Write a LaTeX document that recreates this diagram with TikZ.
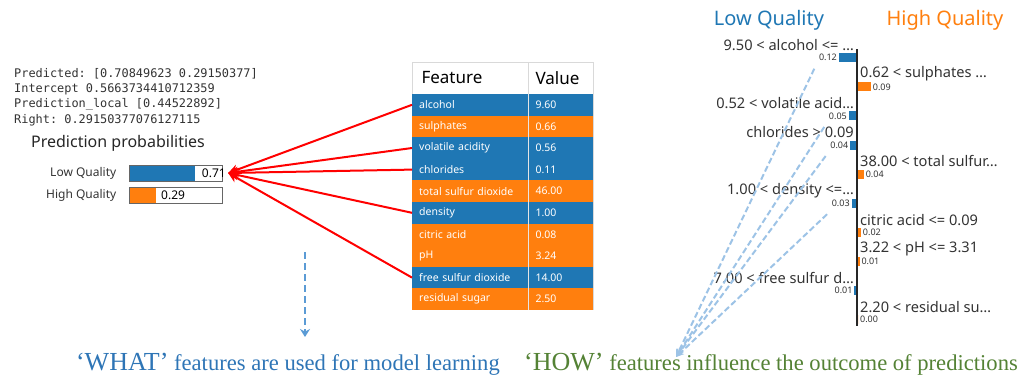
\documentclass[tikz,border=0pt]{standalone}
\usepackage{fontspec}
\setmainfont{Liberation Serif}
\setsansfont{Noto Sans}
\setmonofont{DejaVu Sans Mono}
\usetikzlibrary{arrows.meta}

\definecolor{lowq}{HTML}{1F77B4}
\definecolor{highq}{HTML}{FF7F0E}
\definecolor{whatblue}{HTML}{2E75B6}
\definecolor{howgreen}{HTML}{548235}
\definecolor{howdash}{HTML}{9DC3E6}
\definecolor{whatdash}{HTML}{5B9BD5}
\definecolor{txtgray}{HTML}{333333}

\newcommand{\sfpx}[1]{\sffamily\fontsize{#1}{#1}\selectfont}

\tikzset{
  featcell/.style={anchor=west, inner xsep=7pt, inner ysep=0pt, minimum height=21.6pt,
    text width=102pt, align=left, text=white, font=\sfpx{10.5}},
  valcell/.style={featcell, text width=50pt},
  probbox/.style={draw=gray!80!black, minimum width=93pt, minimum height=16pt, inner sep=0pt},
  problabel/.style={anchor=east, font=\sfpx{12}, text=txtgray},
  rule/.style={font=\sfpx{14.6}, text=txtgray, inner sep=1pt},
  weight/.style={font=\sfpx{9}, text=txtgray, inner sep=1.5pt},
  bar/.style={inner sep=0pt, minimum height=9pt},
  featarrow/.style={red, line width=2pt, -{Stealth[length=10pt,width=10pt]}},
  howline/.style={howdash, line width=2pt, dash pattern=on 6pt off 3pt, -{Stealth[length=8pt,width=7pt]}},
  whatline/.style={whatdash, line width=2.2pt, dash pattern=on 7pt off 4pt, -{Stealth[length=8pt,width=10pt]}},
}

\begin{document}
\begin{tikzpicture}[x=1pt,y=-1pt]
    \useasboundingbox (0,0) rectangle (1027,378);

    % explainer output and class probabilities
    \node[anchor=north west, align=left, inner sep=0pt, text=txtgray,
      font=\ttfamily\fontsize{11.9}{15.3}\selectfont] (predtext) at (14,68)
      {Predicted: [0.70849623 0.29150377]\\
       Intercept 0.5663734410712359\\
       Prediction\_local [0.44522892]\\
       Right: 0.29150377076127115};
    \node[font=\sfpx{16}, text=black!85] (probtitle) at (118,143) {Prediction probabilities};
    \fill[lowq] (129,165) rectangle (195,181);
    \fill[highq] (129,187) rectangle (156,203);
    \node[probbox] (lowbox) at (175.5,173) {};
    \node[probbox] (highbox) at (175.5,195) {};
    \node[problabel] (lowlab) at ([xshift=-9pt]lowbox.west) {Low Quality};
    \node[problabel] (highlab) at ([xshift=-9pt]highbox.west) {High Quality};
    \node[anchor=east, inner sep=0pt, font=\sfpx{12}] (lowval) at (226,173) {0.71};
    \node[anchor=west, inner sep=0pt, font=\sfpx{12}] (highval) at (161,195) {0.29};

    % feature table
    \draw[gray!30] (412,62) rectangle (528,94) (528,62) rectangle (593,94);
    \node[anchor=west, font=\sfpx{17}] (feathead) at (418,78) {Feature};
    \node[anchor=west, font=\sfpx{17}] (valhead) at (532,78) {Value};
    \foreach \feat/\val/\col [count=\i from 0] in {alcohol/9.60/lowq, sulphates/0.66/highq,
      volatile acidity/0.56/lowq, chlorides/0.11/lowq, total sulfur dioxide/46.00/highq,
      density/1.00/lowq, citric acid/0.08/highq, pH/3.24/highq,
      free sulfur dioxide/14.00/lowq, residual sugar/2.50/highq}{
        \node[featcell, fill=\col] (row-\i) at (412,{104.8+21.6*\i}) {\feat};
        \node[valcell, fill=\col] (cell-\i) at (row-\i.east) {\val};
    }
    \draw[white!80!gray] (528,94) -- (528,310);
    \draw[gray!30] (593,62) -- (593,310);

    \foreach \i in {0,2,3,5,8}
        \draw[featarrow] (row-\i.west) -- ([xshift=6pt]lowbox.east);

    % contributions per rule
    \node[font=\sfpx{20}, text=lowq] (lowtitle) at (769,20) {Low Quality};
    \node[font=\sfpx{20}, text=highq] (hightitle) at (945,20) {High Quality};
    \foreach \i/\rl/\w in {0/9.50 < alcohol <= \ldots/0.12, 2/0.52 < volatile acid\ldots/0.05,
      3/chlorides > 0.09/0.04, 5/1.00 < density <=\ldots/0.03, 8/7.00 < free sulfur d\ldots/0.01}{
        \node[rule, anchor=east] (rule-\i) at (855,{45+29.1*\i}) {\rl};
        \node[bar, fill=lowq, minimum width={142*\w}, anchor=north east] (bar-\i) at (856,{53+29.1*\i}) {};
        \node[weight, anchor=east] (wt-\i) at (bar-\i.west) {\w};
    }
    \foreach \i/\rl/\w in {1/0.62 < sulphates \ldots/0.09, 4/38.00 < total sulfur\ldots/0.04,
      6/citric acid <= 0.09/0.02, 7/3.22 < pH <= 3.31/0.01, 9/2.20 < residual su\ldots/0.00}{
        \node[rule, anchor=west] (rule-\i) at (859,{45+29.1*\i}) {\rl};
        \node[bar, fill=highq, minimum width={142*\w}, anchor=north west] (bar-\i) at (858,{53+29.1*\i}) {};
        \node[weight, anchor=west] (wt-\i) at (bar-\i.east) {\w};
    }
    \draw[line width=2pt, black!85] (857,49) -- (857,326);

    % captions
    \coordinate (whatfrom) at (305,252);
    \coordinate (whatto) at (305,337);
    \coordinate (howtip) at (676,357);
    \draw[whatline] (whatfrom) -- (whatto);
    \foreach \i in {0,2,3,5}
        \draw[howline] ([xshift=-3pt,yshift=-6pt]wt-\i.south west) -- (howtip);
    \node[anchor=base east, inner sep=0pt, text=whatblue, font=\fontsize{22.6}{22.6}\selectfont] (whatcap) at (500,370)
      {{\fontsize{26}{26}\selectfont ‘WHAT’} features are used for model learning};
    \node[anchor=base west, inner sep=0pt, text=howgreen, font=\fontsize{22.6}{22.6}\selectfont] (howcap) at (524,370)
      {{\fontsize{26}{26}\selectfont ‘HOW’} features influence the outcome of predictions};
\end{tikzpicture}
\end{document}
